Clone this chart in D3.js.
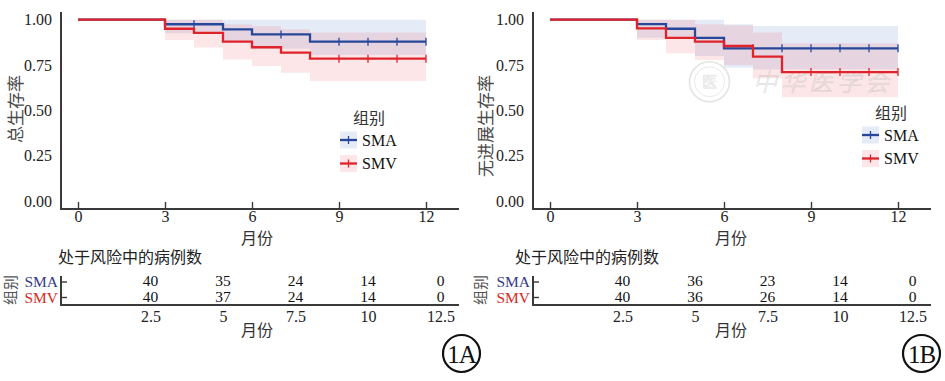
<!DOCTYPE html>
<html><head><meta charset="utf-8">
<script src="https://cdn.jsdelivr.net/npm/d3@7"></script>
<style>
body{margin:0;background:#fff;}
svg{display:block;}
</style></head>
<body>
<svg id="chart" width="945" height="381"></svg>
<script>
// ---------- data ----------
const monthTicks = [0, 3, 6, 9, 12];
const survTicks = [0, 0.25, 0.5, 0.75, 1];
const tableTicks = [2.5, 5, 7.5, 10, 12.5];
const groups = ["SMA", "SMV"];

// Panel A: overall survival
const osSmaTimes = [0, 3, 5, 6, 8];
const osSmaSurv = [1, 0.975, 0.947, 0.919, 0.879];
const osSmaCensor = [4, 7, 9, 10, 11, 12];
const osSmaBandTimes = [3, 5, 6, 8];
const osSmaLower = [0.925, 0.88, 0.84, 0.805];
const osSmaUpper = [1, 1, 1, 1];

const osSmvTimes = [0, 3, 4, 5, 6, 7, 8];
const osSmvSurv = [1, 0.95, 0.927, 0.879, 0.848, 0.818, 0.785];
const osSmvCensor = [9, 10, 11, 12];
const osSmvBandTimes = [3, 4, 5, 6, 7, 8];
const osSmvLower = [0.888, 0.846, 0.78, 0.745, 0.708, 0.662];
const osSmvUpper = [1, 1, 0.975, 0.965, 0.947, 0.93];

const osRiskSma = [40, 35, 24, 14, 0];
const osRiskSmv = [40, 37, 24, 14, 0];

// Panel B: progression-free survival
const pfsSmaTimes = [0, 3, 4, 5, 6];
const pfsSmaSurv = [1, 0.976, 0.95, 0.90, 0.842];
const pfsSmaCensor = [7, 8, 9, 10, 11, 12];
const pfsSmaBandTimes = [3, 5, 6, 7];
const pfsSmaLower = [0.9, 0.8, 0.735, 0.725];
const pfsSmaUpper = [1, 1, 0.975, 0.965];

const pfsSmvTimes = [0, 3, 4, 5, 6, 7, 8];
const pfsSmvSurv = [1, 0.952, 0.90, 0.879, 0.855, 0.796, 0.711];
const pfsSmvCensor = [9, 10, 11, 12];
const pfsSmvBandTimes = [3, 4, 5, 6, 7, 8];
const pfsSmvLower = [0.888, 0.815, 0.778, 0.75, 0.677, 0.572];
const pfsSmvUpper = [1, 1, 0.975, 0.97, 0.93, 0.87];

const pfsRiskSma = [40, 36, 23, 14, 0];
const pfsRiskSmv = [40, 36, 26, 14, 0];

// ---------- style ----------
const SERIF = "'Liberation Serif','Times New Roman',serif";
const CJK = "'Noto Sans CJK SC','Noto Sans',sans-serif";
const lineColor = {SMA: "#27489a", SMV: "#e0232a"};
const bandColor = {SMA: "#4a78cc", SMV: "#ee4b57"};
const labelColor = {SMA: "#353a8c", SMV: "#d42a1e"};
const axisColor = "#3a3a3a";
const END = 12;

const svg = d3.select("#chart");

function drawPanel(p) {
  const g = svg.append("g").attr("transform", `translate(${p.dx},0)`);
  const x = d3.scaleLinear().domain([0, 12]).range([78, 426]);
  const y = d3.scaleLinear().domain([0, 1]).range([201, 19.7]);

  // bands
  p.series.forEach(s => {
    const pts = s.bandTimes.map((t, i) => ({t, lo: s.lower[i], hi: s.upper[i]}));
    pts.push({t: END, lo: s.lower[s.lower.length - 1], hi: s.upper[s.upper.length - 1]});
    g.append("path")
      .attr("d", d3.area().curve(d3.curveStepAfter)
        .x(d => x(d.t)).y0(d => y(d.lo)).y1(d => y(d.hi))(pts))
      .attr("fill", bandColor[s.name]).attr("fill-opacity", 0.14);
  });

  // watermark (panel B)
  if (p.watermark) {
    const wm = g.append("g").attr("opacity", 0.45);
    wm.append("circle").attr("cx", x(5.5)).attr("cy", y(0.658)).attr("r", 20)
      .attr("fill", "none").attr("stroke", "#c4c4c4").attr("stroke-width", 1.6);
    wm.append("circle").attr("cx", x(5.5)).attr("cy", y(0.658)).attr("r", 15)
      .attr("fill", "none").attr("stroke", "#cfcfcf").attr("stroke-width", 1);
    wm.append("text").attr("x", x(5.5)).attr("y", y(0.658)).attr("dy", "0.35em")
      .attr("text-anchor", "middle").attr("font-family", CJK).attr("font-size", 15)
      .attr("fill", "none").attr("stroke", "#c4c4c4").attr("stroke-width", 0.7).text("医");
    wm.append("text").attr("x", x(7.0)).attr("y", y(0.655)).attr("dy", "0.35em")
      .attr("font-family", CJK).attr("font-size", 24).attr("letter-spacing", 4)
      .attr("font-style", "italic").attr("font-weight", 300)
      .attr("fill", "none").attr("stroke", "#bcbcbc").attr("stroke-width", 0.7)
      .text(p.watermark);
  }

  // step lines
  p.series.forEach(s => {
    const pts = s.times.map((t, i) => ({t, v: s.surv[i]}));
    pts.push({t: END, v: s.surv[s.surv.length - 1]});
    g.append("path")
      .attr("d", d3.line().curve(d3.curveStepAfter).x(d => x(d.t)).y(d => y(d.v))(pts))
      .attr("fill", "none").attr("stroke", lineColor[s.name]).attr("stroke-width", 2.3);
    const survAt = t => s.surv[d3.bisectRight(s.times, t) - 1];
    g.selectAll(null).data(s.censor).join("line")
      .attr("x1", d => x(d)).attr("x2", d => x(d))
      .attr("y1", d => y(survAt(d)) - 4).attr("y2", d => y(survAt(d)) + 4)
      .attr("stroke", lineColor[s.name]).attr("stroke-width", 1.3);
  });

  // axes
  g.append("line").attr("x1", 61).attr("x2", 61).attr("y1", 12).attr("y2", 209)
    .attr("stroke", axisColor).attr("stroke-width", 2);
  g.append("line").attr("x1", 60).attr("x2", 459).attr("y1", 209).attr("y2", 209)
    .attr("stroke", axisColor).attr("stroke-width", 2);

  const xAxis = g.append("g").attr("transform", "translate(0,209)")
    .call(d3.axisBottom(x).tickValues(monthTicks).tickSize(-7).tickPadding(4).tickFormat(d3.format("d")));
  xAxis.select(".domain").remove();
  xAxis.selectAll(".tick line").attr("stroke", axisColor).attr("stroke-width", 1.4);
  xAxis.selectAll(".tick text").attr("y", 2).attr("font-family", SERIF).attr("font-size", 16).attr("fill", "#222");

  const yAxis = g.append("g").attr("transform", "translate(61,0)")
    .call(d3.axisLeft(y).tickValues(survTicks).tickSize(0).tickPadding(9).tickFormat(d3.format(".2f")));
  yAxis.select(".domain").remove();
  yAxis.selectAll(".tick text").attr("font-family", SERIF).attr("font-size", 16).attr("fill", "#222");

  g.append("text").attr("transform", `translate(${p.yTitleX},${p.yTitleY}) rotate(-90)`)
    .attr("text-anchor", "middle").attr("dy", "0.35em")
    .attr("font-family", CJK).attr("font-size", 17).attr("fill", "#4a4a4a").text(p.yTitle);
  g.append("text").attr("x", p.xTitleX).attr("y", 238.5).attr("dy", "0.35em")
    .attr("text-anchor", "middle").attr("font-family", CJK).attr("font-size", 16)
    .attr("fill", "#333").text("月份");

  // legend
  const lg = g.append("g").attr("transform", `translate(${p.legX},${p.legY})`);
  lg.append("text").attr("x", 0).attr("y", 0).attr("dy", "0.35em")
    .attr("font-family", CJK).attr("font-size", 16).attr("fill", "#333").text("组别");
  groups.forEach((name, i) => {
    const cy = 22 + i * 23.5;
    lg.append("rect").attr("x", -13).attr("y", cy - 8.5).attr("width", 17).attr("height", 17)
      .attr("fill", bandColor[name]).attr("fill-opacity", 0.14);
    lg.append("line").attr("x1", -13).attr("x2", 4).attr("y1", cy).attr("y2", cy)
      .attr("stroke", lineColor[name]).attr("stroke-width", 2.3);
    lg.append("line").attr("x1", -4.5).attr("x2", -4.5).attr("y1", cy - 4).attr("y2", cy + 4)
      .attr("stroke", lineColor[name]).attr("stroke-width", 1.3);
    lg.append("text").attr("x", 9).attr("y", cy).attr("dy", "0.35em")
      .attr("font-family", SERIF).attr("font-size", 16).attr("fill", "#111").text(name);
  });

  // risk table
  g.append("text").attr("x", p.tableTitleX).attr("y", 257).attr("dy", "0.35em")
    .attr("font-family", CJK).attr("font-size", 16).attr("fill", "#222").text("处于风险中的病例数");
  const rowY = {SMA: 282, SMV: 297.5};
  g.append("line").attr("x1", 61).attr("x2", 61).attr("y1", 276).attr("y2", 306)
    .attr("stroke", axisColor).attr("stroke-width", 2);
  g.append("line").attr("x1", 60).attr("x2", 459).attr("y1", 305).attr("y2", 305)
    .attr("stroke", axisColor).attr("stroke-width", 2);
  groups.forEach(name => {
    g.append("line").attr("x1", 61).attr("x2", 67).attr("y1", rowY[name]).attr("y2", rowY[name])
      .attr("stroke", axisColor).attr("stroke-width", 1.4);
    g.append("text").attr("x", 58).attr("y", rowY[name]).attr("dy", "0.35em")
      .attr("text-anchor", "end").attr("font-family", SERIF).attr("font-size", 15.5)
      .attr("fill", labelColor[name]).text(name);
  });
  const risk = {SMA: p.riskSma, SMV: p.riskSmv};
  groups.forEach(name => {
    g.selectAll(null).data(tableTicks).join("text")
      .attr("x", d => x(d)).attr("y", rowY[name] - 1).attr("dy", "0.35em")
      .attr("text-anchor", "middle").attr("font-family", SERIF).attr("font-size", 15.5)
      .attr("fill", "#111").text((d, i) => risk[name][i]);
  });
  const tAxis = g.append("g").attr("transform", "translate(0,305)")
    .call(d3.axisBottom(x).tickValues(tableTicks).tickSize(0).tickPadding(6).tickFormat(d => String(d)));
  tAxis.select(".domain").remove();
  tAxis.selectAll(".tick text").attr("font-family", SERIF).attr("font-size", 16).attr("fill", "#222");
  g.append("text").attr("transform", `translate(${p.tableGroupX},290) rotate(-90)`)
    .attr("text-anchor", "middle").attr("dy", "0.35em")
    .attr("font-family", CJK).attr("font-size", 15).attr("fill", "#555").text("组别");
  g.append("text").attr("x", p.xTitleX).attr("y", 330).attr("dy", "0.35em")
    .attr("text-anchor", "middle").attr("font-family", CJK).attr("font-size", 16)
    .attr("fill", "#333").text("月份");

  // panel label
  g.append("circle").attr("cx", p.tagX).attr("cy", 353.5).attr("r", 18.5)
    .attr("fill", "none").attr("stroke", "#111").attr("stroke-width", 2.2);
  g.append("text").attr("x", p.tagX).attr("y", 354.5).attr("dy", "0.35em")
    .attr("text-anchor", "middle").attr("font-family", SERIF).attr("font-size", 25)
    .attr("letter-spacing", -1).attr("fill", "#111").text(p.tag);
}

drawPanel({
  dx: 0, yTitle: "总生存率", yTitleX: 16, yTitleY: 109, xTitleX: 257,
  legX: 353, legY: 118, tableTitleX: 58, tableGroupX: 10.5, tagX: 461.5, tag: "1A",
  riskSma: osRiskSma, riskSmv: osRiskSmv,
  series: [
    {name: "SMA", times: osSmaTimes, surv: osSmaSurv, censor: osSmaCensor,
     bandTimes: osSmaBandTimes, lower: osSmaLower, upper: osSmaUpper},
    {name: "SMV", times: osSmvTimes, surv: osSmvSurv, censor: osSmvCensor,
     bandTimes: osSmvBandTimes, lower: osSmvLower, upper: osSmvUpper}
  ]
});

drawPanel({
  dx: 472, yTitle: "无进展生存率", yTitleX: 14, yTitleY: 126, xTitleX: 259,
  legX: 403, legY: 113, tableTitleX: 43, tableGroupX: 8.5, tagX: 449.5, tag: "1B",
  watermark: "中华医学会",
  riskSma: pfsRiskSma, riskSmv: pfsRiskSmv,
  series: [
    {name: "SMA", times: pfsSmaTimes, surv: pfsSmaSurv, censor: pfsSmaCensor,
     bandTimes: pfsSmaBandTimes, lower: pfsSmaLower, upper: pfsSmaUpper},
    {name: "SMV", times: pfsSmvTimes, surv: pfsSmvSurv, censor: pfsSmvCensor,
     bandTimes: pfsSmvBandTimes, lower: pfsSmvLower, upper: pfsSmvUpper}
  ]
});
</script>
</body></html>
